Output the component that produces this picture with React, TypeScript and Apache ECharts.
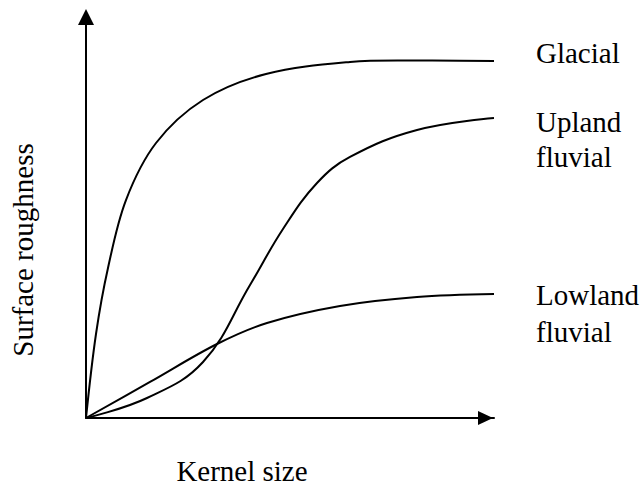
import React, { useEffect, useRef } from "react";
import * as echarts from "echarts";

// Schematic values (kernel size 0..100, roughness 0..100)
const glacial: [number, number][] = [
  [0, 0], [2.45, 20.95], [5.39, 37.41], [9.8, 54.36], [17.16, 68.58], [28.68, 79.3],
  [44.12, 85.79], [64.71, 88.78], [81.86, 89.15], [100, 89.03],
];
const uplandFluvial: [number, number][] = [
  [0, 0], [14.95, 4.99], [28.68, 13.97], [40.2, 33.17], [48.28, 47.13], [56.62, 58.6],
  [64.71, 65.09], [81.13, 71.82], [100, 74.81],
];
const lowlandFluvial: [number, number][] = [
  [0, 0], [15.69, 8.98], [32.11, 18.45], [44.36, 23.69], [62.25, 27.93], [81.13, 30.17],
  [100, 30.92],
];
const seriesLabels: string[][] = [["Glacial"], ["Upland", "fluvial"], ["Lowland", "fluvial"]];
const xAxisName = "Kernel size";
const yAxisName = "Surface roughness";

export default function App() {
  const ref = useRef<HTMLDivElement>(null);
  useEffect(() => {
    if (!ref.current) return;
    const chart = echarts.init(ref.current, undefined, { renderer: "svg" });
    // Smooth curve through the data points, mapped through the chart's own axes
    const curveSeries = (name: string, data: [number, number][], smooth: number) => ({
      name,
      type: "custom",
      data,
      encode: { x: 0, y: 1 },
      silent: true,
      clip: false,
      renderItem: (params: any, api: any) => {
        if (params.dataIndex !== 0) return null;
        const pts = data.map((d) => api.coord(d));
        return {
          type: "polyline",
          shape: { points: pts, smooth },
          style: { stroke: "#000", lineWidth: 2, fill: null },
        };
      },
    });
    const txt = (text: string, x: number, y: number, align = "left", rotation = 0) => ({
      type: "text",
      x,
      y,
      rotation,
      silent: true,
      style: {
        text,
        fontFamily: '"Liberation Serif", "Times New Roman", serif',
        fontSize: 29,
        fill: "#000",
        align,
        verticalAlign: "middle",
        textAlign: align,
        textVerticalAlign: "middle",
      },
    });
    const labelY = [[53], [122, 157], [295, 332]];
    const graphics: any[] = [];
    seriesLabels.forEach((lines, i) =>
      lines.forEach((l, j) => graphics.push(txt(l, 536, labelY[i][j])))
    );
    graphics.push(txt(xAxisName, 242, 471, "center"));
    graphics.push(txt(yAxisName, 23, 250, "center", Math.PI / 2));

    chart.setOption({
      animation: false,
      backgroundColor: "#fff",
      grid: { left: 86, right: 149, top: 17, bottom: 68 },
      xAxis: {
        type: "value",
        min: 0,
        max: 100,
        axisLine: {
          show: true,
          symbol: ["none", "triangle"],
          symbolSize: [14, 15],
          symbolOffset: [0, -8.5],
          lineStyle: { color: "#000", width: 2 },
        },
        axisTick: { show: false },
        axisLabel: { show: false },
        splitLine: { show: false },
      },
      yAxis: {
        type: "value",
        min: 0,
        max: 100,
        axisLine: {
          show: true,
          symbol: ["none", "triangle"],
          symbolSize: [16, 16],
          symbolOffset: [0, 0],
          lineStyle: { color: "#000", width: 2 },
        },
        axisTick: { show: false },
        axisLabel: { show: false },
        splitLine: { show: false },
      },
      series: [
        curveSeries("Glacial", glacial, 0.35),
        curveSeries("Upland fluvial", uplandFluvial, 0.4),
        curveSeries("Lowland fluvial", lowlandFluvial, 0.35),
      ],
      graphic: graphics,
    });
    return () => chart.dispose();
  }, []);
  return (
    <div
      ref={ref}
      style={{ position: "fixed", left: 0, top: 0, width: 643, height: 486, background: "#fff" }}
    />
  );
}
